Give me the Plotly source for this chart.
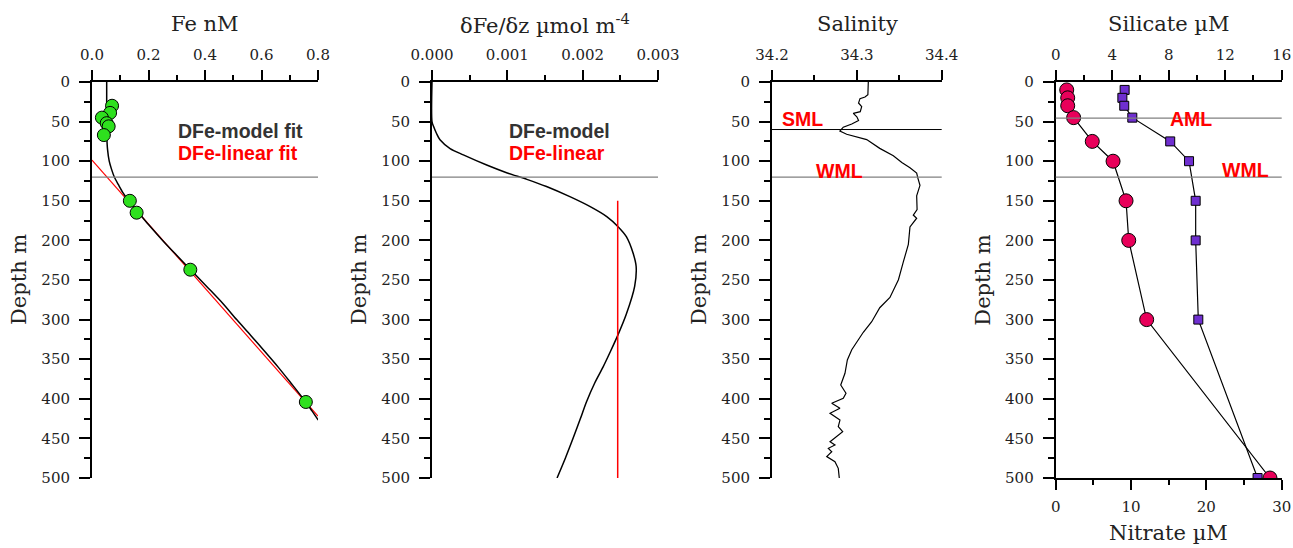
import plotly.graph_objects as go

W, H = 1293, 548

# ---------------- data ----------------
# Panel 1: dissolved Fe
fe_depth = [30, 39, 45, 52, 56, 67, 150, 165, 237, 404]
fe_value = [0.071, 0.064, 0.035, 0.052, 0.059, 0.042, 0.134, 0.158, 0.348, 0.757]

model_depth = [0, 40, 60, 70, 85, 100, 110, 120, 130, 140, 150, 165, 180, 200, 220,
               240, 260, 280, 300, 320, 340, 360, 380, 400, 415, 427]
model_fe = [0.052, 0.052, 0.052, 0.0525, 0.055, 0.061, 0.069, 0.079, 0.094, 0.110, 0.130,
            0.165, 0.200, 0.250, 0.303, 0.357, 0.411, 0.464, 0.512, 0.562, 0.611, 0.659,
            0.704, 0.748, 0.778, 0.801]

linear_depth = [98.6, 421.8]
linear_fe = [0.0, 0.8]

# Panel 2: vertical Fe gradient
grad_depth = [0, 50, 56, 65, 73, 84, 92, 104.8, 114.5, 122.9, 132, 144.8, 157.4, 170,
              182.7, 195.3, 216.3, 233, 258, 293, 319, 340, 360, 380, 404, 425, 448,
              475, 500]
grad_model = [0, 0, 0.00002, 0.00006, 0.000106, 0.00024, 0.000416, 0.000726, 0.00099,
              0.00126, 0.00152, 0.00183, 0.0021, 0.00232, 0.00247, 0.00258, 0.00267,
              0.00271, 0.00269, 0.00258, 0.00247, 0.00237, 0.00227, 0.00216, 0.00205,
              0.00197, 0.00188, 0.00177, 0.00166]
grad_lin_depth = [150, 500]
grad_lin_value = [0.002465, 0.002465]

# Panel 3: salinity profile
sal_depth = [0, 1, 16, 19, 21, 26.5, 31, 37.5, 39.7, 44, 48.5, 53, 57, 62, 66, 72.7, 83.8,
             93, 101.7, 108.4, 115, 121.6, 130.5, 143.8, 161, 168, 172, 183, 205, 227.5,
             249.6, 272, 285, 302.7, 316, 338, 351, 367.8, 382.6, 393, 399.4, 405.7, 412,
             418.3, 426.8, 435.2, 441.5, 454.2, 458.3, 462.5, 466.8, 473, 479.4, 487.8, 500]
sal_value = [34.3135, 34.3135, 34.313, 34.3096, 34.3037, 34.302, 34.3057, 34.304, 34.2958,
             34.300, 34.302, 34.294, 34.284, 34.280, 34.288, 34.3116, 34.327, 34.343,
             34.353, 34.3626, 34.3705, 34.372, 34.3744, 34.3705, 34.371, 34.3665, 34.3705,
             34.3626, 34.3607, 34.3547, 34.349, 34.339, 34.327, 34.3175, 34.3076, 34.294,
             34.2888, 34.286, 34.281, 34.2872, 34.284, 34.2704, 34.2801, 34.2684, 34.2801,
             34.2781, 34.2833, 34.2684, 34.2742, 34.2664, 34.2704, 34.2645, 34.2742,
             34.2781, 34.2793]

# Panel 4: nutrients
nut_depth = [10, 20, 30, 45, 75, 100, 150, 200, 300, 500]
silicate = [0.78, 0.85, 0.85, 1.27, 2.59, 4.06, 4.98, 5.17, 6.44, 15.17]
nitrate = [9.15, 8.85, 9.1, 10.17, 15.2, 17.7, 18.58, 18.58, 18.93, 26.8]

# Mixed layer depths
wml_depth = 120
sml_depth = 60
aml_depth = 45.7

# ---------------- layout helpers (page pixels -> paper fraction) ----------------
def fx(p):
    return p / W

def fy(p):
    return 1 - p / H

dom_y = [fy(478), fy(82)]
doms = [[fx(92), fx(318)], [fx(432), fx(658)], [fx(772), fx(941.7)], [fx(1055.7), fx(1281.7)]]

SERIF = "DejaVu Serif"
SANS = "Liberation Sans"
TXT = "#222222"

fig = go.Figure()

# Panel 1
fig.add_trace(go.Scatter(x=linear_fe, y=linear_depth, mode="lines",
                         line=dict(color="#ff0000", width=1.2), xaxis="x", yaxis="y"))
fig.add_trace(go.Scatter(x=model_fe, y=model_depth, mode="lines",
                         line=dict(color="#000000", width=1.5, shape="spline", smoothing=0.8),
                         xaxis="x", yaxis="y"))
fig.add_trace(go.Scatter(x=fe_value, y=fe_depth, mode="markers",
                         marker=dict(size=13, color="#2ee01e", line=dict(color="#000", width=1)),
                         xaxis="x", yaxis="y"))

# Panel 2
fig.add_trace(go.Scatter(x=grad_model, y=grad_depth, mode="lines",
                         line=dict(color="#000000", width=1.5, shape="spline", smoothing=0.8),
                         xaxis="x2", yaxis="y2"))
fig.add_trace(go.Scatter(x=grad_lin_value, y=grad_lin_depth, mode="lines",
                         line=dict(color="#ff0000", width=1.5), xaxis="x2", yaxis="y2"))

# Panel 3
fig.add_trace(go.Scatter(x=sal_value, y=sal_depth, mode="lines",
                         line=dict(color="#000000", width=1.2), xaxis="x3", yaxis="y3"))

# Panel 4
fig.add_trace(go.Scatter(x=silicate, y=nut_depth, mode="lines+markers",
                         line=dict(color="#000", width=1.2),
                         marker=dict(symbol="circle", size=14, color="#e8005a",
                                     line=dict(color="#000", width=1)),
                         xaxis="x4", yaxis="y4"))
fig.add_trace(go.Scatter(x=nitrate, y=nut_depth, mode="lines+markers",
                         line=dict(color="#000", width=1.2),
                         marker=dict(symbol="square", size=9, color="#6f2fd0",
                                     line=dict(color="#000", width=1)),
                         xaxis="x5", yaxis="y4"))

tickfont = dict(family=SERIF, size=15, color=TXT)

def xax(domain, rng, dtick, minor, anchor, side="top", fmt=None, overlay=None):
    d = dict(domain=domain, range=rng, side=side, anchor=anchor, dtick=dtick, tick0=rng[0],
             showline=True, linecolor="#000", linewidth=2, ticks="outside", ticklen=10,
             tickwidth=1.5, tickcolor="#000", showgrid=False, zeroline=False,
             automargin=False, tickfont=tickfont, fixedrange=True, ticklabelstandoff=4,
             ticklabeloverflow="allow",
             minor=dict(ticks="outside", ticklen=5, dtick=minor, tick0=rng[0],
                        tickwidth=1.5, tickcolor="#000", showgrid=False))
    if fmt:
        d["tickformat"] = fmt
    if overlay:
        d["overlaying"] = overlay
    return d

def yax(anchor):
    return dict(domain=dom_y, range=[500, 0], anchor=anchor, dtick=50, tick0=0,
                showline=True, linecolor="#000", linewidth=2, ticks="outside", ticklen=11,
                tickwidth=1.5, tickcolor="#000", showgrid=False, zeroline=False,
                automargin=False, tickfont=tickfont, fixedrange=True, ticklabelstandoff=6,
                ticklabeloverflow="allow",
                minor=dict(ticks="outside", ticklen=6, dtick=25, tick0=0,
                           tickwidth=1.5, tickcolor="#000", showgrid=False))

layout = dict(
    width=W, height=H, autosize=False,
    margin=dict(l=0, r=0, t=0, b=0, pad=0, autoexpand=False),
    paper_bgcolor="white", plot_bgcolor="white", showlegend=False,
    xaxis=xax(doms[0], [0, 0.8], 0.2, 0.1, "y", fmt=".1f"),
    xaxis2=xax(doms[1], [0, 0.003], 0.001, 0.0005, "y2", fmt=".3f"),
    xaxis3=xax(doms[2], [34.2, 34.4], 0.1, 0.05, "y3", fmt=".1f"),
    xaxis4=xax(doms[3], [0, 16], 4, 2, "y4"),
    xaxis5=xax(doms[3], [0, 30], 10, 5, "y4", side="bottom", overlay="x4"),
    yaxis=yax("x"),
    yaxis2=yax("x2"),
    yaxis3=yax("x3"),
    yaxis4=yax("x4"),
)
fig.update_layout(**layout)

# reference lines
shapes = []
for xr, yr in [("x", "y"), ("x2", "y2"), ("x3", "y3"), ("x4", "y4")]:
    shapes.append(dict(type="line", xref=xr + " domain", yref=yr, x0=0, x1=1,
                       y0=wml_depth, y1=wml_depth, line=dict(color="#808080", width=1.2)))
shapes.append(dict(type="line", xref="x3 domain", yref="y3", x0=0, x1=1,
                   y0=sml_depth, y1=sml_depth, line=dict(color="#000000", width=1)))
shapes.append(dict(type="line", xref="x4 domain", yref="y4", x0=0, x1=1,
                   y0=aml_depth, y1=aml_depth, line=dict(color="#808080", width=1.2)))
fig.update_layout(shapes=shapes)

ann = []
def title(text, x, y, size=21, angle=0):
    ann.append(dict(text=text, x=fx(x), y=fy(y), xref="paper", yref="paper",
                    showarrow=False, xanchor="center", yanchor="middle", textangle=angle,
                    font=dict(family=SERIF, size=size, color=TXT)))

title("Fe nM", 205, 24)
title("δFe/δz µmol m<sup>-4</sup>", 545, 24)
title("Salinity", 857, 24)
title("Silicate µM", 1168.7, 24)
title("Nitrate µM", 1168.7, 533)
for xpos in [19, 359, 699, 982.7]:
    title("Depth m", xpos, 280, angle=-90)

def label(text, x, y, xr, yr, color, anchor="left", size=19.5):
    ann.append(dict(text="<b>%s</b>" % text, x=x, y=y, xref=xr, yref=yr, showarrow=False,
                    xanchor=anchor, yanchor="middle",
                    font=dict(family=SANS, size=size, color=color)))

label("DFe-model fit", 0.299, 61.5, "x", "y", "#333333")
label("DFe-linear fit", 0.299, 90, "x", "y", "#ff0000")
label("DFe-model", 0.001000, 61.5, "x2", "y2", "#333333")
label("DFe-linear", 0.001000, 90, "x2", "y2", "#ff0000")
label("SML", 34.2354, 46.6, "x3", "y3", "#ff0000", anchor="center")
label("WML", 34.2793, 112, "x3", "y3", "#ff0000", anchor="center")
label("AML", 9.57, 46.6, "x4", "y4", "#ff0000", anchor="center")
label("WML", 13.47, 110.6, "x4", "y4", "#ff0000", anchor="center")
fig.update_layout(annotations=ann)

fig.write_html("out.html", config={"displayModeBar": False})
